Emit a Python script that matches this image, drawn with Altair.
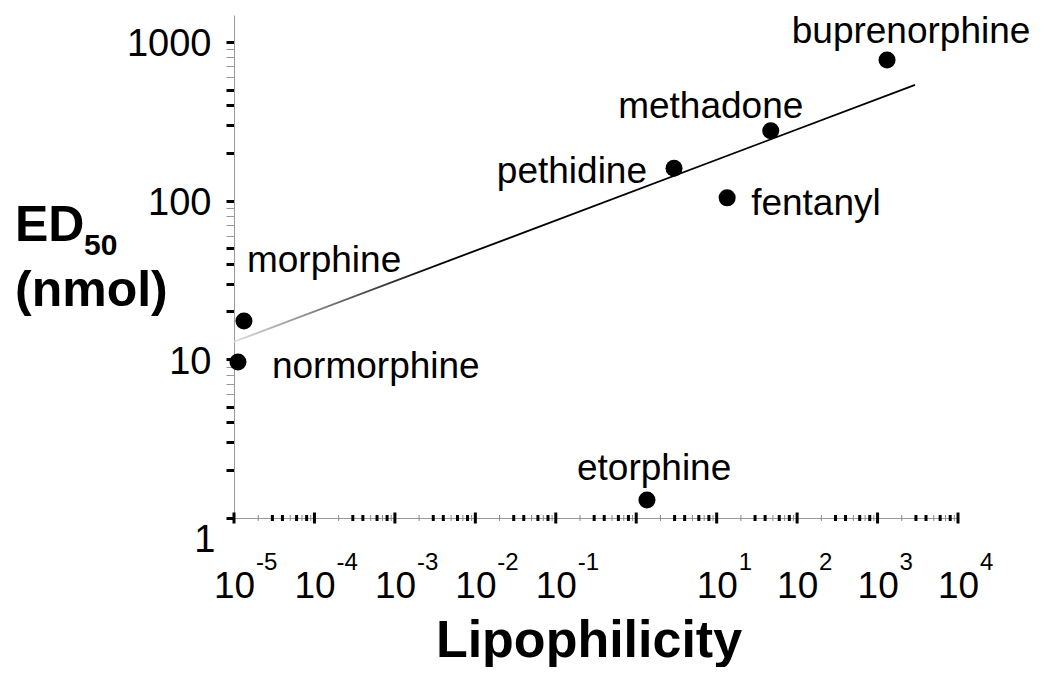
import altair as alt
import pandas as pd

# ---- data ----
drugs = ["buprenorphine", "methadone", "pethidine", "fentanyl",
         "morphine", "normorphine", "etorphine"]
lipophilicity = [1312, 47, 2.95, 13.5, 1.33e-5, 1.12e-5, 1.36]
ed50 = [769, 275, 160, 104, 17.4, 9.6, 1.30]

fit_x = [1.0e-5, 2925]
fit_y = [12.9, 535]

x_decades = [1e-5, 1e-4, 1e-3, 1e-2, 1e-1, 1e0, 1e1, 1e2, 1e3, 1e4]
x_label_pos = [1e-5, 1e-4, 1e-3, 1e-2, 1e-1, 1e1, 1e2, 1e3, 1e4]
x_label_base = ["10"] * 9
x_label_exp = ["-5", "-4", "-3", "-2", "-1", "1", "2", "3", "4"]
x_minor_thick = [m * 10.0 ** k for k in range(-5, 4) for m in (3, 4, 6, 8)]
x_minor_thin = [m * 10.0 ** k for k in range(-5, 4) for m in (2, 5, 7, 9)]

y_ticks = [m * 10.0 ** k for k in range(0, 3) for m in range(1, 10)] + [1000]

y_title_main = ["ED"]
y_title_sub = ["50"]
y_title_unit = ["(nmol)"]
x_title = ["Lipophilicity"]

FONT = "Liberation Sans"
W, H = 724, 503

df = pd.DataFrame({"name": drugs, "x": lipophilicity, "y": ed50})
df_fit = pd.DataFrame({"x": fit_x, "y": fit_y})

xscale = alt.Scale(type="log", domain=[1e-5, 1e4], nice=False)
yscale = alt.Scale(type="log", domain=[1, 1476], nice=False)

xaxis = alt.Axis(values=x_decades, ticks=False, labels=False, title=None,
                 grid=False, domainColor="#9a9a9a", domainWidth=1)
yaxis = alt.Axis(
    values=y_ticks, title=None, grid=False,
    domainColor="#9a9a9a", domainWidth=1,
    labelExpr="(datum.value == 1 || datum.value == 10 || datum.value == 100 || datum.value == 1000) ? format(datum.value, 'd') : ''",
    labelFont=FONT, labelFontSize=38, labelColor="black",
    labelOverlap=False, labelBound=False, labelFlush=False,
    labelPadding={"condition": {"test": "datum.value == 1", "value": 11}, "value": 15},
    labelOffset={"condition": {"test": "datum.value == 1", "value": 22}, "value": 3},
    tickSize=8,
    tickWidth={"condition": {"test": "datum.value / pow(10, floor(log(datum.value) / LN10 + 1e-9)) < 5.5", "value": 3}, "value": 1},
    tickColor={"condition": {"test": "datum.value / pow(10, floor(log(datum.value) / LN10 + 1e-9)) < 5.5", "value": "black"}, "value": "#999999"},
)

X = alt.X("x:Q", scale=xscale, axis=xaxis)
Y = alt.Y("y:Q", scale=yscale, axis=yaxis)

grad = alt.Gradient(
    gradient="linear",
    stops=[alt.GradientStop(color="#dcdcdc", offset=0),
           alt.GradientStop(color="#000000", offset=0.3),
           alt.GradientStop(color="#000000", offset=1)],
    x1=0, x2=1, y1=0, y2=0,
)

fit = alt.Chart(df_fit).mark_line(stroke=grad, strokeWidth=1.8).encode(x=X, y=Y)
points = alt.Chart(df).mark_circle(size=290, color="black", opacity=1).encode(x=X, y=Y)

label_style = {
    "buprenorphine": ("center", 24, -17),
    "methadone": ("center", -60, -13),
    "pethidine": ("right", -27, 15),
    "fentanyl": ("left", 24, 17),
    "morphine": ("left", 3, -49),
    "normorphine": ("left", 34, 16),
    "etorphine": ("left", -70, -20),
}
labels = []
for nm, (al, dx, dy) in label_style.items():
    labels.append(
        alt.Chart(df).transform_filter(alt.datum.name == nm)
        .mark_text(font=FONT, fontSize=37, color="black", align=al,
                   baseline="alphabetic", dx=dx, dy=dy)
        .encode(x=X, y=Y, text="name:N")
    )

def tick_layer(vals, size, thick, color):
    return alt.Chart(pd.DataFrame({"x": vals})).mark_tick(
        orient="vertical", size=size, thickness=thick, color=color, opacity=1
    ).encode(x=X, y=alt.value(H))

xt_major = tick_layer(x_decades, 11, 3, "black")
xt_thick = tick_layer(x_minor_thick, 6, 3, "black")
xt_thin = tick_layer(x_minor_thin, 6, 1, "#888888")

df_xl = pd.DataFrame({"x": x_label_pos, "base": x_label_base, "exp": x_label_exp})
xl_base = alt.Chart(df_xl).mark_text(
    font=FONT, fontSize=37, color="black", align="left", baseline="alphabetic", dx=-20
).encode(x=X, y=alt.value(H + 80), text="base:N")
xl_exp = alt.Chart(df_xl).mark_text(
    font=FONT, fontSize=24, color="black", align="left", baseline="alphabetic", dx=22
).encode(x=X, y=alt.value(H + 52), text="exp:N")

def title_text(txt, size, x, y, align="left"):
    return alt.Chart(pd.DataFrame({"t": txt})).mark_text(
        font=FONT, fontSize=size, fontWeight="bold", color="black",
        align=align, baseline="alphabetic"
    ).encode(x=alt.value(x), y=alt.value(y), text="t:N")

t_ed = title_text(y_title_main, 50, -219, 226)
t_sub = title_text(y_title_sub, 30, -150, 240)
t_unit = title_text(y_title_unit, 50, -219, 291)
t_x = title_text(x_title, 52, 355, 642, align="center")

chart = alt.layer(
    fit, points, *labels, xt_thin, xt_thick, xt_major, xl_base, xl_exp,
    t_ed, t_sub, t_unit, t_x
).properties(
    width=W, height=H,
    autosize=alt.AutoSizeParams(type="none"),
    padding={"left": 226, "top": 7, "right": 78, "bottom": 149},
    background="white",
).configure_view(stroke=None)

chart.save("out.html", embed_options={"renderer": "svg", "actions": False})
